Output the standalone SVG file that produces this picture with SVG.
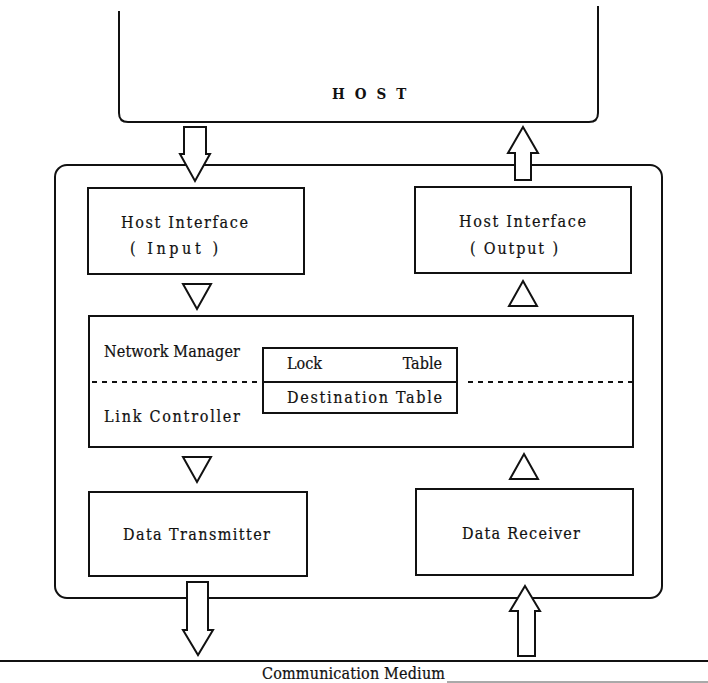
<svg xmlns="http://www.w3.org/2000/svg" width="708" height="683" viewBox="0 0 708 683">
  <style>
    .box { fill: #fff; stroke: #111; stroke-width: 2; }
    .frame { fill: none; stroke: #111; stroke-width: 2; }
    .arrow { fill: #fff; stroke: #111; stroke-width: 2; stroke-linejoin: miter; }
    .tri { fill: #fff; stroke: #111; stroke-width: 2; }
    .dash { fill: none; stroke: #111; stroke-width: 2; stroke-dasharray: 5 5; }
    .line { fill: none; stroke: #111; stroke-width: 2; }
    text { font-family: "DejaVu Serif Condensed", "DejaVu Serif", "Liberation Serif", serif; font-size: 16px; fill: #111; stroke: #111; stroke-width: 0.2; }
    .title { font-size: 15px; letter-spacing: 10px; font-weight: bold; stroke-width: 0; }
  </style>
  <rect width="708" height="683" fill="#fff"/>

  <!-- host computer (open at the top) -->
  <g id="host">
    <path class="frame" d="M119,11 V113 Q119,122 128,122 H589 Q598,122 598,113 V6"/>
    <text class="title" x="332" y="99">HOST</text>
  </g>

  <!-- node enclosure -->
  <g id="node-frame">
    <rect class="frame" x="55" y="165" width="607" height="433" rx="12" ry="12"/>
  </g>

  <g id="host-if-in">
    <rect class="box" x="88" y="188" width="216" height="86"/>
    <text x="121" y="228" textLength="127" lengthAdjust="spacing">Host Interface</text>
    <text x="130" y="254" textLength="88" lengthAdjust="spacing">( Input )</text>
  </g>

  <g id="host-if-out">
    <rect class="box" x="415" y="187" width="216" height="86"/>
    <text x="459" y="227" textLength="127" lengthAdjust="spacing">Host Interface</text>
    <text x="470" y="254" textLength="88" lengthAdjust="spacing">( Output )</text>
  </g>

  <g id="manager">
    <rect class="box" x="89" y="316" width="544" height="131"/>
    <path class="dash" d="M92,382 H262 M468,382 H633"/>
    <text x="104" y="357" textLength="136" lengthAdjust="spacing">Network Manager</text>
    <text x="104" y="422" textLength="136" lengthAdjust="spacing">Link Controller</text>
  </g>

  <g id="tables">
    <rect class="box" x="263" y="348" width="194" height="65"/>
    <line class="line" x1="263" y1="382" x2="457" y2="382"/>
    <text x="287" y="369">Lock</text>
    <text x="442" y="369" text-anchor="end">Table</text>
    <text x="287" y="403" textLength="155" lengthAdjust="spacing">Destination Table</text>
  </g>

  <g id="transmitter">
    <rect class="box" x="89" y="492" width="218" height="84"/>
    <text x="123" y="540" textLength="147" lengthAdjust="spacing">Data Transmitter</text>
  </g>

  <g id="receiver">
    <rect class="box" x="416" y="489" width="217" height="86"/>
    <text x="462" y="539" textLength="118" lengthAdjust="spacing">Data Receiver</text>
  </g>

  <!-- communication medium -->
  <g id="medium">
    <line x1="0" y1="661" x2="708" y2="661" stroke="#111" stroke-width="2"/>
    <line x1="447" y1="682" x2="708" y2="682" stroke="#555" stroke-width="1"/>
    <text x="262" y="679" textLength="183" lengthAdjust="spacing">Communication Medium</text>
  </g>

  <!-- data flow -->
  <g id="connectors">
    <!-- host to node -->
    <polygon class="arrow" points="184,127 206,127 206,154 210,154 195,181 180,154 184,154"/>
    <!-- node to host -->
    <polygon class="arrow" points="523,127 538,153 531,153 531,180 515,180 515,153 508,153"/>
    <!-- internal flow -->
    <polygon class="tri" points="183,284 211,284 197,309"/>
    <polygon class="tri" points="523,281 537,306 509,306"/>
    <polygon class="tri" points="183,457 211,457 197,482"/>
    <polygon class="tri" points="524,454 538,479 510,479"/>
    <!-- node to medium -->
    <polygon class="arrow" points="187,582 208,582 208,630 213,630 198,655 183,630 187,630"/>
    <!-- medium to node -->
    <polygon class="arrow" points="525,586 540,611 535,611 535,656 518,656 518,611 510,611"/>
  </g>
</svg>
